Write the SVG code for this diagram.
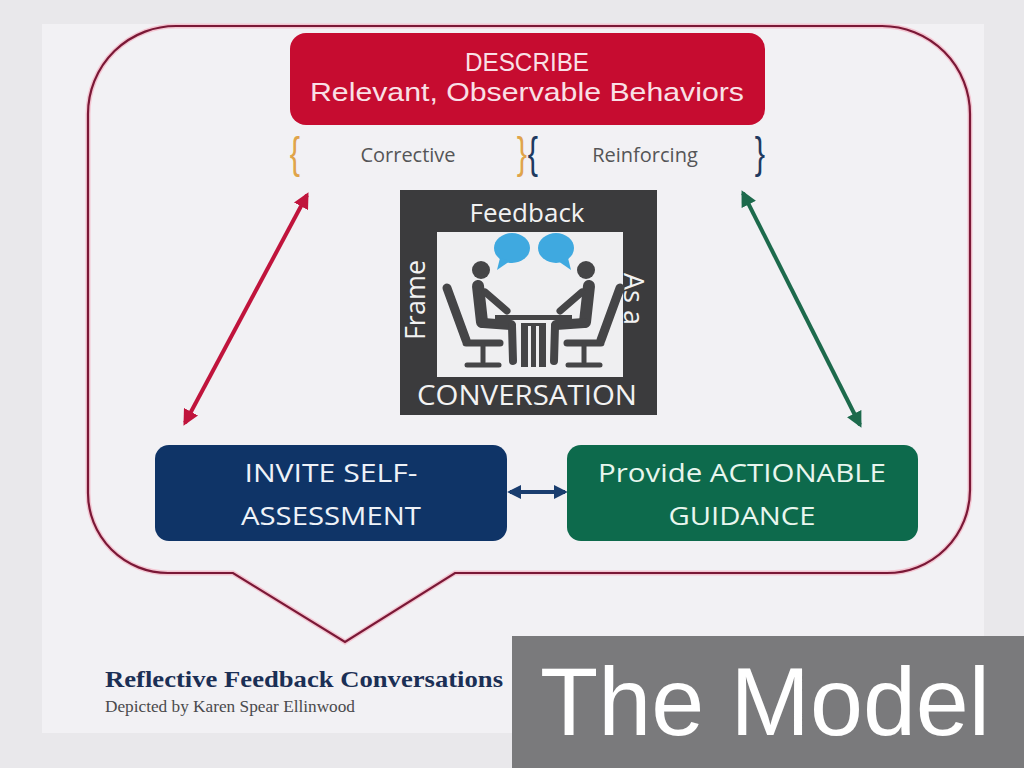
<svg xmlns="http://www.w3.org/2000/svg" width="1024" height="768" viewBox="0 0 1024 768">
<style>
.sans{font-family:"Open Sans","Liberation Sans",sans-serif}
.lbl{font-family:"Open Sans","Liberation Sans",sans-serif;text-anchor:middle}
.lbl2{font-family:"Liberation Sans",sans-serif;text-anchor:middle}
.fig{stroke:#454547;stroke-linecap:round;fill:none}
</style>
<defs>
<marker id="ahR" viewBox="0 0 10 10" refX="8" refY="5" markerWidth="4" markerHeight="4" orient="auto-start-reverse" markerUnits="strokeWidth"><path d="M0,0 L10,5 L0,10 Z" fill="#c0143c"/></marker>
<marker id="ahG" viewBox="0 0 10 10" refX="8" refY="5" markerWidth="4" markerHeight="4" orient="auto-start-reverse" markerUnits="strokeWidth"><path d="M0,0 L10,5 L0,10 Z" fill="#1d6a4c"/></marker>
<marker id="ahB" viewBox="0 0 10 10" refX="8" refY="5" markerWidth="3.5" markerHeight="3.5" orient="auto-start-reverse" markerUnits="strokeWidth"><path d="M0,0 L10,5 L0,10 Z" fill="#1a3d6e"/></marker>
</defs>
<rect width="1024" height="768" fill="#e9e8eb"/>
<rect x="42" y="24" width="942" height="709" fill="#f2f1f4"/>

<g id="callout">
<path d="M178 26 H882 A88 88 0 0 1 970 114 V490 A83 83 0 0 1 887 573 H455 L345 642 L233 573 H168 A80 80 0 0 1 88 493 V114 A88 88 0 0 1 178 26 Z" fill="none" stroke="#f4c6d2" stroke-width="5"/>
<path d="M178 26 H882 A88 88 0 0 1 970 114 V490 A83 83 0 0 1 887 573 H455 L345 642 L233 573 H168 A80 80 0 0 1 88 493 V114 A88 88 0 0 1 178 26 Z" fill="none" stroke="#7a1836" stroke-width="2.2"/>
</g>

<g id="describe">
<rect x="290" y="33" width="475" height="92" rx="16" fill="#c60c30"/>
<text class="lbl2" x="527" y="71" font-size="26" fill="#f9e0e6" textLength="124" lengthAdjust="spacingAndGlyphs">DESCRIBE</text>
<text class="lbl2" x="527" y="101" font-size="26" fill="#f9e0e6" textLength="434" lengthAdjust="spacingAndGlyphs">Relevant, Observable Behaviors</text>
</g>

<g id="braces">
<text x="295" y="168" font-size="44" fill="#e0a44a" font-family="Liberation Sans,sans-serif" text-anchor="middle" transform="translate(295,0) scale(0.7,1) translate(-295,0)">{</text>
<text x="522" y="168" font-size="44" fill="#e0a44a" font-family="Liberation Sans,sans-serif" text-anchor="middle" transform="translate(522,0) scale(0.7,1) translate(-522,0)">}</text>
<text x="533" y="168" font-size="44" fill="#1f3a60" font-family="Liberation Sans,sans-serif" text-anchor="middle" transform="translate(533,0) scale(0.7,1) translate(-533,0)">{</text>
<text x="760" y="168" font-size="44" fill="#1f3a60" font-family="Liberation Sans,sans-serif" text-anchor="middle" transform="translate(760,0) scale(0.7,1) translate(-760,0)">}</text>
<text class="lbl" x="408" y="162" font-size="20" fill="#555557">Corrective</text>
<text class="lbl" x="645" y="162" font-size="20" fill="#555557">Reinforcing</text>
</g>

<g id="frame">
<rect x="400" y="190" width="257" height="225" fill="#3b3b3d"/>
<rect x="437" y="232" width="186" height="145" fill="#efeff1"/>
<text class="lbl" x="527" y="222" font-size="26" fill="#f2f2f2">Feedback</text>
<text class="lbl" x="527" y="405" font-size="27" fill="#f2f2f2" textLength="220" lengthAdjust="spacingAndGlyphs">CONVERSATION</text>
<text class="lbl" font-size="27" fill="#f2f2f2" transform="translate(425,300) rotate(-90)">Frame</text>
<text class="lbl" font-size="27" fill="#f2f2f2" transform="translate(624,299) rotate(90)">As a</text>
<g id="icon">
<g fill="#3fa9e0">
<ellipse cx="512" cy="248" rx="18" ry="15"/>
<path d="M500 258 L497 270 L510 261 Z"/>
<ellipse cx="556" cy="248" rx="18" ry="15"/>
<path d="M568 258 L571 270 L558 261 Z"/>
</g>
<g id="personL">
<line class="fig" x1="447" y1="288" x2="466" y2="340" stroke-width="9"/>
<line class="fig" x1="466" y1="343" x2="500" y2="343" stroke-width="7"/>
<line class="fig" x1="483" y1="345" x2="483" y2="362" stroke-width="5"/>
<line class="fig" x1="467" y1="365" x2="499" y2="365" stroke-width="5"/>
<circle cx="481" cy="270" r="9" fill="#454547"/>
<line class="fig" x1="478" y1="286" x2="482" y2="322" stroke-width="12"/>
<line class="fig" x1="483" y1="323" x2="511" y2="325" stroke-width="10"/>
<line class="fig" x1="512" y1="326" x2="513" y2="361" stroke-width="8"/>
<line class="fig" x1="485" y1="292" x2="507" y2="311" stroke-width="7"/>
</g>
<use href="#personL" transform="translate(1067,0) scale(-1,1)"/>
<rect x="495" y="315" width="77" height="5" fill="#454547"/>
<rect x="521" y="323" width="25" height="44" fill="#454547"/>
<rect x="528" y="326" width="3" height="41" fill="#efeff1"/>
<rect x="536" y="326" width="3" height="41" fill="#efeff1"/>
</g>
</g>

<g id="connectors">
<line x1="307" y1="195" x2="185" y2="423" stroke="#c0143c" stroke-width="4" marker-start="url(#ahR)" marker-end="url(#ahR)"/>
<line x1="743" y1="193" x2="860" y2="425" stroke="#1d6a4c" stroke-width="4" marker-start="url(#ahG)" marker-end="url(#ahG)"/>
<line x1="510" y1="492" x2="565" y2="492" stroke="#1a3d6e" stroke-width="4" marker-start="url(#ahB)" marker-end="url(#ahB)"/>
</g>

<g id="invite">
<rect x="155" y="445" width="352" height="96" rx="14" fill="#0f3467"/>
<text class="lbl" x="331" y="482" font-size="26" fill="#eef2f8" textLength="173" lengthAdjust="spacingAndGlyphs">INVITE SELF-</text>
<text class="lbl" x="331" y="525" font-size="26" fill="#eef2f8" textLength="180" lengthAdjust="spacingAndGlyphs">ASSESSMENT</text>
</g>

<g id="guidance">
<rect x="567" y="445" width="351" height="96" rx="14" fill="#0d6a4c"/>
<text class="lbl" x="742" y="482" font-size="26" fill="#e8f6ee" textLength="288" lengthAdjust="spacingAndGlyphs">Provide ACTIONABLE</text>
<text class="lbl" x="742" y="525" font-size="26" fill="#e8f6ee" textLength="147" lengthAdjust="spacingAndGlyphs">GUIDANCE</text>
</g>

<g id="caption">
<text x="105" y="687" font-family="Liberation Serif,serif" font-weight="bold" font-size="24" fill="#1b2f55" textLength="398" lengthAdjust="spacingAndGlyphs">Reflective Feedback Conversations</text>
<text x="105" y="712" font-family="Liberation Serif,serif" font-size="16" fill="#4a4a4c" textLength="250" lengthAdjust="spacingAndGlyphs">Depicted by Karen Spear Ellinwood</text>
</g>

<g id="title">
<rect x="512" y="636" width="512" height="132" fill="#7a7a7c"/>
<text x="540" y="735" font-family="Liberation Sans,sans-serif" font-size="96" fill="#ffffff" textLength="450" lengthAdjust="spacingAndGlyphs">The Model</text>
</g>
</svg>
